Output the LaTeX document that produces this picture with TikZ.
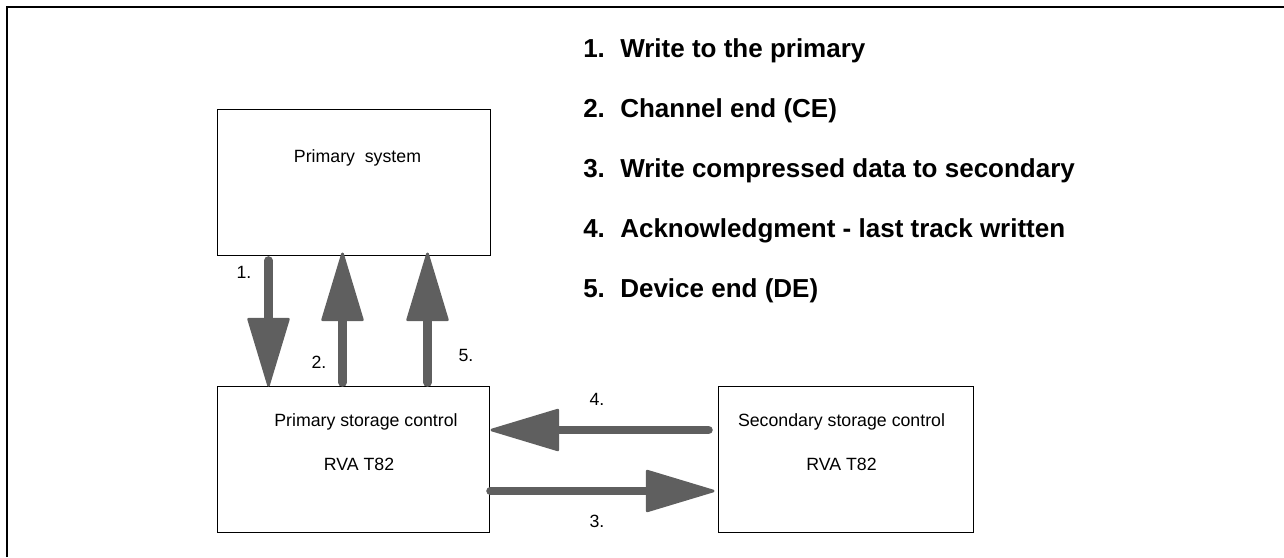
\documentclass[tikz,border=0pt]{standalone}
\usepackage{fontspec}
\setmainfont{Liberation Sans}
\usetikzlibrary{arrows.meta,calc}
\definecolor{flowgray}{RGB}{95,95,95}
\tikzset{
  box/.style={draw, line width=0.75pt, inner sep=0pt, minimum height=109.5pt},
  boxtext/.style={anchor=base, inner sep=0pt, font=\fontsize{13.3}{16}\selectfont},
  numlabel/.style={inner sep=0pt, font=\fontsize{13.3}{16}\selectfont},
  legend/.style={anchor=base west, inner sep=0pt, font=\fontsize{19.5}{23}\selectfont\bfseries},
  flow/.style={draw=flowgray, line width=6.4pt, line cap=round,
    -{Triangle[length=54pt, width=32pt, round, line width=2pt]}},
}
\begin{document}
\begin{tikzpicture}[x=0.75pt, y=-0.75pt]
    \useasboundingbox (0,0) rectangle (1284,557);
    \draw[line width=1.5pt] (7,557) -- (7,7) -- (1284,7);
    \node[box, minimum width=204.75pt, label={[boxtext, xshift=3pt, yshift=-40.5pt]north:Primary\ \ system}] (sys) at (353.5,182) {};
    \node[box, minimum width=204pt, label={[boxtext, xshift=9.75pt, yshift=-30.75pt]north:Primary storage control}, label={[boxtext, xshift=4.5pt, yshift=-63.75pt]north:RVA T82}] (psc) at (353,459) {};
    \node[box, minimum width=191.25pt, label={[boxtext, xshift=-3pt, yshift=-30.75pt]north:Secondary storage control}, label={[boxtext, xshift=-3pt, yshift=-63.75pt]north:RVA T82}] (ssc) at (845.5,459) {};
    \node[numlabel] (n1) at (244,272) {1.};
    \node[numlabel] (n2) at (319,362) {2.};
    \node[numlabel] (n5) at (466,355) {5.};
    \node[numlabel] (n4) at (597,399) {4.};
    \node[numlabel] (n3) at (597,521) {3.};
    \draw[flow] ($(sys.south west)+(52,5)$) -- ($(psc.north west)+(52,1)$);
    \draw[flow] ($(psc.north west)+(126,-3)$) -- ($(sys.south west)+(126,-3)$);
    \draw[flow] ($(psc.north west)+(211,-3)$) -- ($(sys.south west)+(211,-3)$);
    \draw[flow] ($(ssc.west)+(-9,-29)$) -- ($(psc.east)+(1,-29)$);
    \draw[flow] ($(psc.east)+(1,32)$) -- ($(ssc.west)+(-3,32)$);
    \node[legend] (item1) at (583,57) {\makebox[27.75pt][l]{1.}Write to the primary};
    \node[legend] (item2) at (583,117) {\makebox[27.75pt][l]{2.}Channel end (CE)};
    \node[legend] (item3) at (583,177) {\makebox[27.75pt][l]{3.}Write compressed data to secondary};
    \node[legend] (item4) at (583,237) {\makebox[27.75pt][l]{4.}Acknowledgment - last track written};
    \node[legend] (item5) at (583,297) {\makebox[27.75pt][l]{5.}Device end (DE)};
\end{tikzpicture}
\end{document}
